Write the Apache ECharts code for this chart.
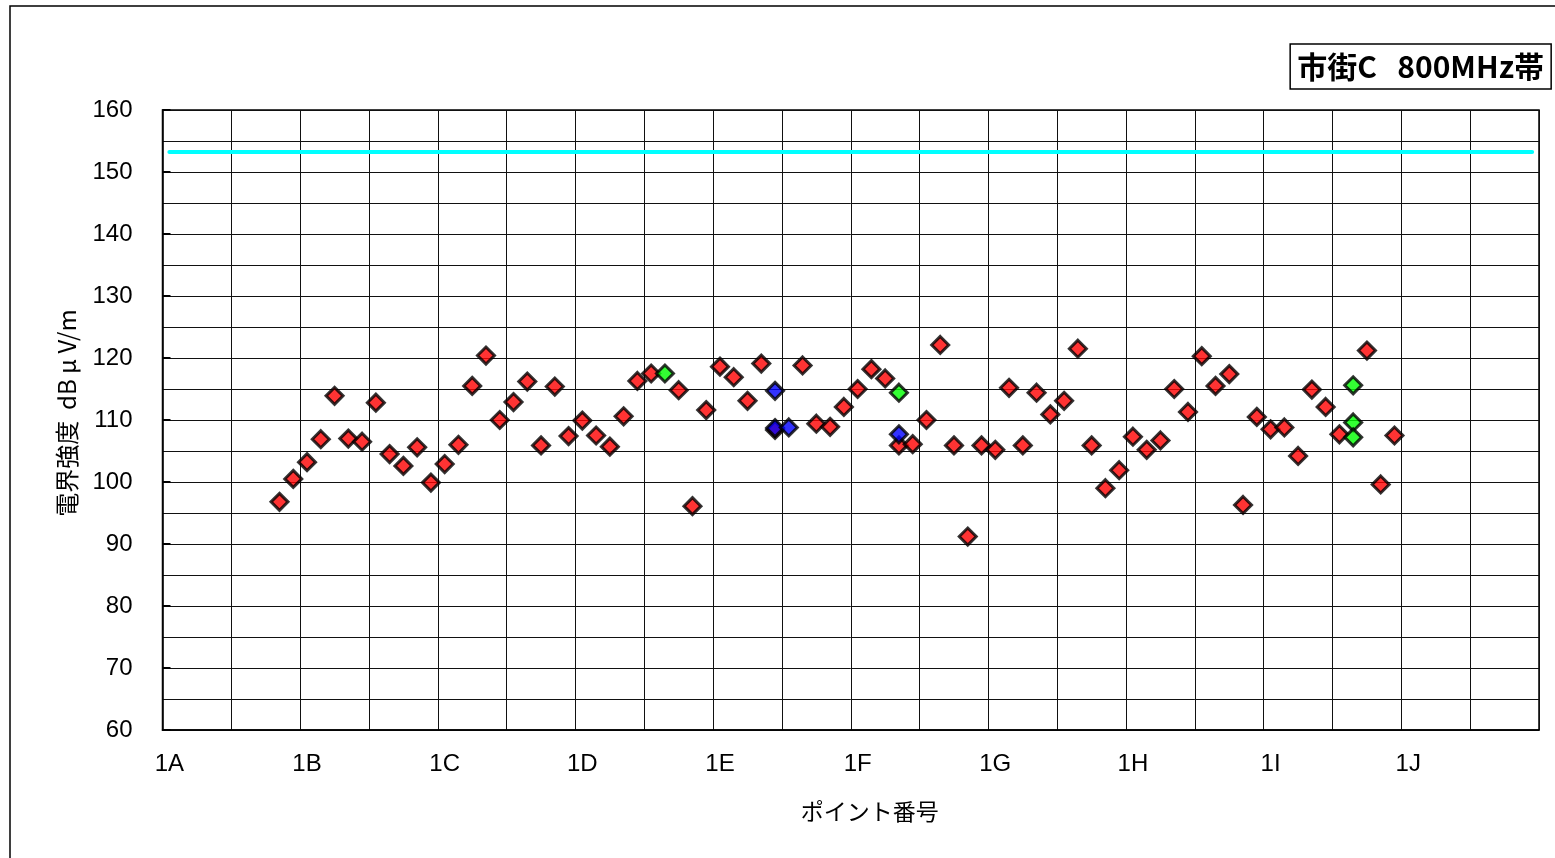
<!DOCTYPE html>
<html>
<head>
<meta charset="utf-8">
<script src="https://cdn.jsdelivr.net/npm/echarts@6/dist/echarts.min.js"></script>
<style>
  html, body { margin: 0; padding: 0; background: #fff; }
  #chart { width: 1555px; height: 858px; }
</style>
</head>
<body>
<div id="chart"></div>
<script>
// 区間ラベル（10ポイントごと）
var tickLabels = ['1A','1B','1C','1D','1E','1F','1G','1H','1I','1J'];
var pointsPerTick = 10;

// 測定値（赤）: ポイント8から順に
var firstIndex = 8;
var redValues = [
  96.8, 100.5, 103.2, 106.9, 113.9, 107.0, 106.5, 112.8, 104.5, 102.6,
  105.6, 99.9, 102.9, 106.0, 115.5, 120.4, 110.0, 112.9, 116.2, 105.9,
  115.4, 107.4, 109.9, 107.5, 105.7, 110.6, 116.3, 117.5, null, 114.8,
  96.1, 111.6, 118.6, 116.9, 113.1, 119.1, 108.4, null, 118.8, 109.4,
  108.9, 112.1, 115.0, 118.2, 116.7, 105.9, 106.1, 110.0, 122.1, 105.9,
  91.2, 105.9, 105.2, 115.2, 105.9, 114.4, 110.9, 113.1, 121.5, 105.9,
  99.0, 101.9, 107.3, 105.2, 106.7, 115.0, 111.3, 120.3, 115.5, 117.4,
  96.3, 110.5, 108.5, 108.8, 104.2, 114.9, 112.1, 107.7, null, 121.2,
  99.6, 107.5
];

// 緑・青のポイント [ポイント番号, 値]
var greenPoints = [[36, 117.5], [53, 114.4], [86, 115.6], [86, 109.6], [86, 107.2]];
var bluePoints = [[44, 114.7], [44, 108.7], [45, 108.8], [53, 107.7]];

// 基準線
var limitValue = 153.3;

var yMin = 60, yMax = 160, yStep = 10;

var categories = [];
tickLabels.forEach(function(t){
  for (var k = 0; k < pointsPerTick; k++) categories.push(t + '-' + (k + 1));
});

var redData = [];
redValues.forEach(function(v, k){
  if (v !== null) redData.push([firstIndex + k, v]);
});

var font = '"Liberation Sans", "Noto Sans CJK JP", sans-serif';
var cjkFont = '"Noto Sans CJK JP", sans-serif';

var markerStyle = function(color){
  return { color: color, borderColor: '#000', borderWidth: 3 };
};

var chart = echarts.init(document.getElementById('chart'));
chart.setOption({
  animation: false,
  backgroundColor: '#fff',
  title: {
    text: '市街C   800MHz帯',
    right: 4,
    top: 44,
    borderColor: '#000',
    borderWidth: 1.5,
    padding: [2, 7, 2, 7],
    textStyle: {
      fontFamily: cjkFont,
      fontSize: 30,
      fontWeight: 'bold',
      color: '#000',
      lineHeight: 41
    }
  },
  graphic: [{
    type: 'rect',
    shape: { x: 10, y: 6, width: 1570, height: 880 },
    style: { fill: null, stroke: '#000', lineWidth: 1.5 },
    silent: true
  }],
  grid: {
    left: 162.5, right: 16, top: 110, bottom: 128,
    show: true, borderColor: '#000', borderWidth: 1.5
  },
  xAxis: {
    type: 'category',
    data: categories,
    boundaryGap: true,
    name: 'ポイント番号',
    nameLocation: 'middle',
    nameGap: 70,
    nameTextStyle: { fontFamily: cjkFont, fontSize: 23, color: '#000', padding: [0, 0, 0, 38] },
    axisLine: { lineStyle: { color: '#000', width: 1.5 } },
    axisTick: { show: false },
    axisLabel: {
      interval: pointsPerTick - 1,
      margin: 22,
      fontFamily: font,
      fontSize: 24,
      color: '#000',
      formatter: function(v){ return v.split('-')[0]; }
    },
    splitLine: { show: true, interval: 4, lineStyle: { color: '#111', width: 1 } }
  },
  yAxis: {
    type: 'value',
    min: yMin, max: yMax, interval: yStep,
    name: '電界強度  dB μ V/m',
    nameLocation: 'middle',
    nameGap: 84,
    nameRotate: 90,
    nameTextStyle: { fontFamily: cjkFont, fontSize: 24, color: '#000', padding: [0, 0, 0, 14] },
    axisLine: { show: true, lineStyle: { color: '#000', width: 1.5 } },
    axisTick: { show: true, inside: true, length: 8, lineStyle: { color: '#000', width: 2 } },
    axisLabel: { margin: 30, fontFamily: font, fontSize: 24, color: '#000' },
    splitLine: { show: true, lineStyle: { color: '#111', width: 1 } },
    minorTick: { show: false, splitNumber: 2 },
    minorSplitLine: { show: true, lineStyle: { color: '#111', width: 1 } }
  },
  series: [{
    name: '基準',
    type: 'line',
    data: [],
    silent: true,
    markLine: {
      silent: true,
      symbol: ['none', 'none'],
      label: { show: false },
      lineStyle: { color: '#00FFFF', width: 4, type: 'solid', cap: 'round' },
      data: [[{ xAxis: 0, yAxis: limitValue }, { xAxis: categories.length - 1, yAxis: limitValue }]]
    }
  }, {
    name: '赤',
    type: 'scatter',
    symbol: 'diamond',
    symbolSize: 17,
    data: redData,
    itemStyle: markerStyle('#FF0000'),
    z: 3
  }, {
    name: '緑',
    type: 'scatter',
    symbol: 'diamond',
    symbolSize: 17,
    data: greenPoints,
    itemStyle: markerStyle('#00FF00'),
    z: 4
  }, {
    name: '青',
    type: 'scatter',
    symbol: 'diamond',
    symbolSize: 17,
    data: bluePoints,
    itemStyle: markerStyle('#0000FF'),
    z: 5
  }]
});
</script>
</body>
</html>
